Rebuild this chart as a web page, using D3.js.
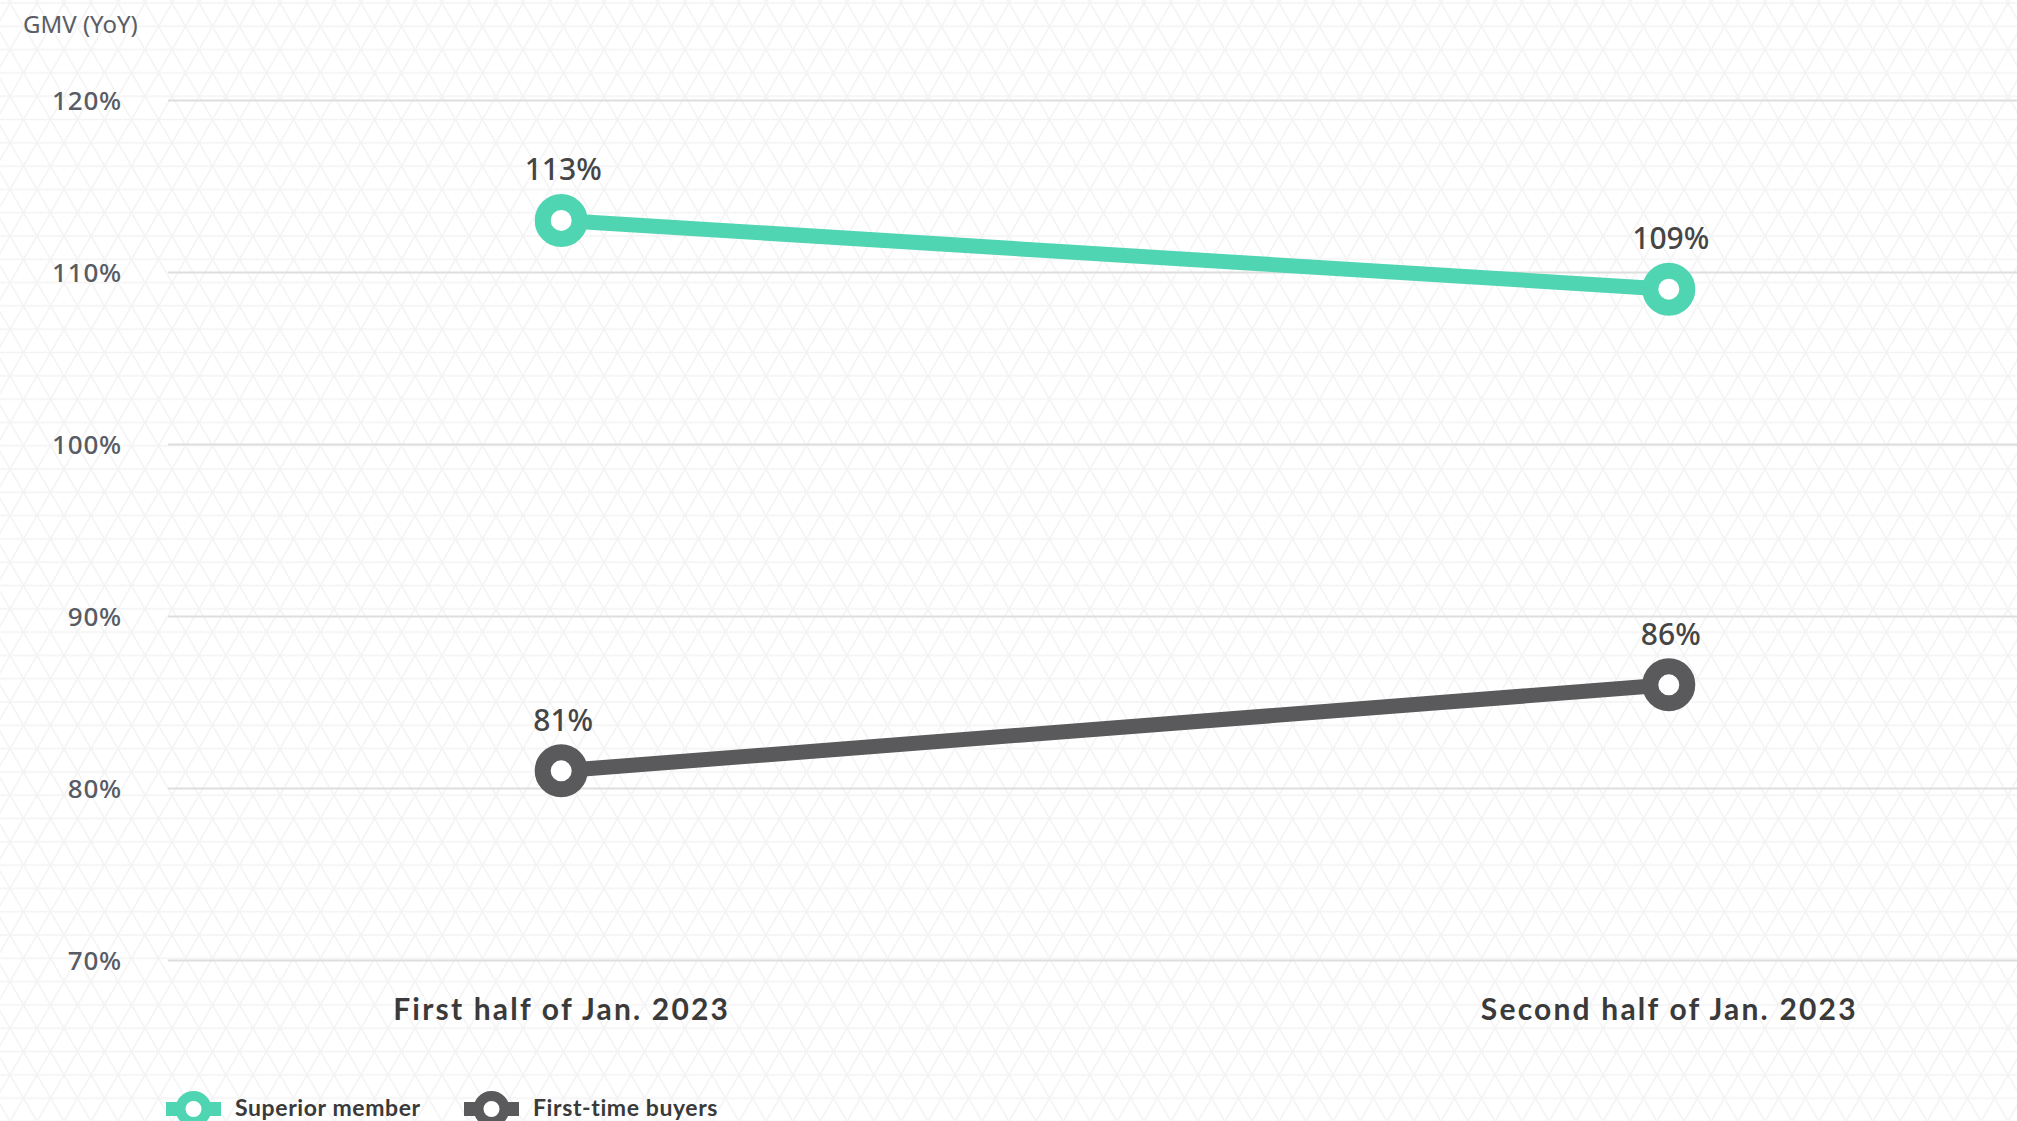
<!DOCTYPE html>
<html>
<head>
<meta charset="utf-8">
<script src="https://cdn.jsdelivr.net/npm/d3@7"></script>
<style>
  html, body { margin: 0; padding: 0; background: #fff; overflow: hidden; }
  svg { display: block; }
</style>
</head>
<body>
<svg id="chart" width="2017" height="1121"></svg>
<script>
// ---- data ----
const categories = ["First half of Jan. 2023", "Second half of Jan. 2023"];
const seriesNames = ["Superior member", "First-time buyers"];
const superiorValues = [113, 109];
const firstTimeValues = [81, 86];
const yTicks = [70, 80, 90, 100, 110, 120];
const yTitle = "GMV (YoY)";
const colors = ["#50d5b2", "#5a5a5c"];

const W = 2017, H = 1121;
const plotLeft = 168, plotTop = 100, plotBottom = 960;

const svg = d3.select("#chart");

// background lattice pattern
const defs = svg.append("defs");
const tw = 27, th = 46.6;
const pat = defs.append("pattern")
  .attr("id", "lattice").attr("patternUnits", "userSpaceOnUse")
  .attr("width", tw).attr("height", th).attr("x", 10).attr("y", 3);
const pg = pat.append("g").attr("stroke", "#f3f3f3").attr("stroke-width", 1.5).attr("fill", "none");
[0, th / 2, th].forEach(y => pg.append("line").attr("x1", -2).attr("x2", tw + 2).attr("y1", y).attr("y2", y));
[-tw, 0, tw].forEach(c => {
  pg.append("line").attr("x1", c - tw / 2).attr("y1", -th / 2).attr("x2", c + tw * 1.5).attr("y2", th * 1.5);
  pg.append("line").attr("x1", c + tw * 1.5).attr("y1", -th / 2).attr("x2", c - tw / 2).attr("y2", th * 1.5);
});
svg.append("rect").attr("width", W).attr("height", H).attr("fill", "#fff");
svg.append("rect").attr("width", W).attr("height", H).attr("fill", "url(#lattice)");

// scales
const y = d3.scaleLinear().domain([70, 120]).range([plotBottom, plotTop]);
const x = d3.scalePoint().domain(categories).range([plotLeft, 2062]).padding(0.355);

// y axis with gridlines
const yAxis = d3.axisLeft(y).tickValues(yTicks).tickFormat(d => d + "%")
  .tickSize(-(W - plotLeft)).tickPadding(46);
const gy = svg.append("g").attr("transform", `translate(${plotLeft},0)`).call(yAxis);
gy.select(".domain").remove();
gy.selectAll(".tick line").attr("stroke", "#dedede").attr("stroke-width", 2);
gy.selectAll(".tick text")
  .attr("fill", "#575b63")
  .attr("font-family", "'Noto Sans', sans-serif")
  .attr("font-size", 26).attr("font-weight", 500)
  .attr("letter-spacing", 0.8)
  .attr("dy", "0.36em");

// y title
svg.append("text").attr("x", 23).attr("y", 33)
  .attr("fill", "#5a5d64")
  .attr("font-family", "'Noto Sans', sans-serif")
  .attr("font-size", 24)
  .text(yTitle);

// x axis labels
const xAxis = d3.axisBottom(x).tickSize(0).tickPadding(0);
const gx = svg.append("g").attr("transform", `translate(0,${1020})`).call(xAxis);
gx.select(".domain").remove();
gx.selectAll(".tick text")
  .attr("fill", "#3a3a3a")
  .attr("font-family", "Lato, sans-serif")
  .attr("font-size", 30).attr("font-weight", 700)
  .attr("letter-spacing", 2.2)
  .attr("dy", 0);

// series
const series = [
  { name: seriesNames[0], values: superiorValues, color: colors[0] },
  { name: seriesNames[1], values: firstTimeValues, color: colors[1] }
];
const line = d3.line().x((d, i) => x(categories[i])).y(d => y(d));

series.forEach(s => {
  const g = svg.append("g");
  g.append("path").datum(s.values).attr("d", line)
    .attr("fill", "none").attr("stroke", s.color).attr("stroke-width", 15);
  g.selectAll("circle").data(s.values).join("circle")
    .attr("cx", (d, i) => x(categories[i])).attr("cy", d => y(d))
    .attr("r", 18.5).attr("fill", "#fff")
    .attr("stroke", s.color).attr("stroke-width", 16);
  g.selectAll("text").data(s.values).join("text")
    .attr("x", (d, i) => x(categories[i]) + 2).attr("y", d => y(d) - 40)
    .attr("text-anchor", "middle")
    .attr("fill", "#454545")
    .attr("font-family", "'Noto Sans', sans-serif")
    .attr("font-size", 30).attr("font-weight", 500)
    .text(d => d + "%");
});

// legend
const legendX = [166, 464];
const lg = svg.append("g");
series.forEach((s, i) => {
  const gx0 = legendX[i];
  const item = lg.append("g").attr("transform", `translate(${gx0},1109)`);
  item.append("line").attr("x1", 0).attr("x2", 55).attr("y1", 0).attr("y2", 0)
    .attr("stroke", s.color).attr("stroke-width", 14);
  item.append("circle").attr("cx", 27.5).attr("cy", 0).attr("r", 13)
    .attr("fill", "#fff").attr("stroke", s.color).attr("stroke-width", 10);
  item.append("text").attr("x", 69).attr("y", 7)
    .attr("fill", "#3a3a3a")
    .attr("font-family", "Lato, sans-serif")
    .attr("font-size", 23).attr("font-weight", 700)
    .attr("letter-spacing", 0.6)
    .text(s.name);
});
</script>
</body>
</html>
